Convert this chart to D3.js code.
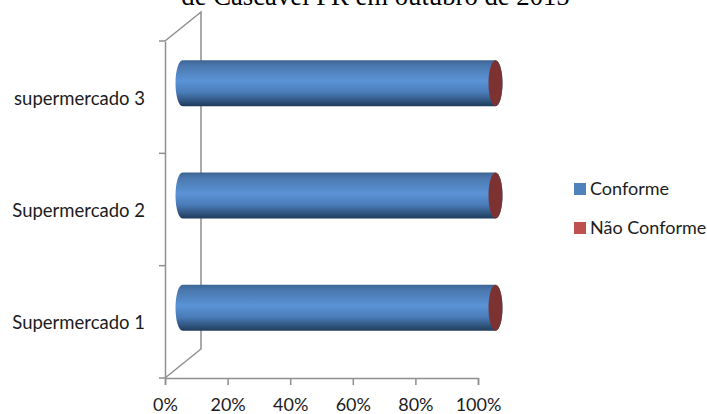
<!DOCTYPE html>
<html>
<head>
<meta charset="utf-8">
<script src="https://cdn.jsdelivr.net/npm/d3@7"></script>
<style>
html,body{margin:0;padding:0;background:#fff;}
svg{display:block;}
text{font-family:Lato,"Open Sans",sans-serif;fill:#1c1c1c;}
</style>
</head>
<body>
<svg id="chart" width="707" height="414"></svg>
<script>
const categories = ["Supermercado 1", "Supermercado 2", "supermercado 3"];
const conforme = [100, 100, 100];
const naoConforme = [0, 0, 0];
const seriesNames = ["Conforme", "Não Conforme"];
const tickValues = [0, 20, 40, 60, 80, 100];
const titleText = "de Cascavel PR em outubro de 2015";

const svg = d3.select("#chart");
const x = d3.scaleLinear().domain([0, 100]).range([165, 478]);
const y = d3.scaleBand().domain(categories).range([378, 41]);
const depth = {dx: 36, dy: -29};
const barDepth = {dx: 17.5, dy: -14.5};
const rx = 7, ry = 23;
const axisColor = "#8f8f8f";

const defs = svg.append("defs");
const blue = defs.append("linearGradient").attr("id", "cyl").attr("x1", 0).attr("x2", 0).attr("y1", 0).attr("y2", 1);
[[0, "#3c6494"], [0.12, "#4a78ae"], [0.45, "#5a93d6"], [0.7, "#4a7cb8"], [0.88, "#315680"], [1, "#1e3a5c"]]
  .forEach(([o, c]) => blue.append("stop").attr("offset", o).attr("stop-color", c));

svg.append("text").attr("x", 375.5).attr("y", 5).attr("text-anchor", "middle")
  .style("font-family", '"Liberation Serif",serif').style("font-size", "26.7px").style("fill", "#000").text(titleText);

// Side and back wall edges of the 3D plot box
const [x0] = x.range();
const [yB, yT] = y.range();
const box = d3.path();
box.moveTo(x0, yT); box.lineTo(x0 + depth.dx, yT + depth.dy); box.lineTo(x0 + depth.dx, yB + depth.dy); box.lineTo(x0, yB);
svg.append("path").attr("d", box.toString()).attr("fill", "none").attr("stroke", axisColor).attr("stroke-width", 1.5);

const yAxis = d3.axisLeft(y).tickValues([]).tickSize(0);
svg.append("g").attr("transform", `translate(${x0},0)`).call(yAxis)
  .call(g => g.select(".domain").attr("stroke", axisColor).attr("stroke-width", 1.5));
const yEdges = categories.map(c => y(c) + y.bandwidth()).concat(yT);
svg.append("g").selectAll("line").data(yEdges).join("line")
  .attr("x1", x0 - 6).attr("x2", x0).attr("y1", d => d).attr("y2", d => d)
  .attr("stroke", axisColor).attr("stroke-width", 1.5);

const xAxis = d3.axisBottom(x).tickValues(tickValues).tickFormat(d => d + "%").tickSize(7).tickPadding(0);
const xg = svg.append("g").attr("transform", `translate(0,${yB})`).call(xAxis);
xg.select(".domain").attr("stroke", axisColor).attr("stroke-width", 1.5);
xg.selectAll("line").attr("stroke", axisColor).attr("stroke-width", 1.5);
xg.selectAll("text").attr("y", 32.5).attr("dy", 0).style("font-size", "18px").attr("fill", "#1c1c1c");

svg.append("g").selectAll("text").data(categories).join("text")
  .attr("x", 145).attr("y", d => y(d) + y.bandwidth() / 2 + 7.5)
  .attr("text-anchor", "end").style("font-size", "18.5px").text(d => d);

// Cylinders: one body per category with a cap for the non-conforming share
const bars = svg.append("g").selectAll("g").data(categories).join("g")
  .attr("transform", (d, i) => `translate(${barDepth.dx},${y(d) + y.bandwidth() / 2 + barDepth.dy + 0.5})`);
bars.append("path").attr("d", (d, i) => {
  const x1 = x(0), x2 = x(conforme[i]);
  return `M${x1},${-ry}L${x2},${-ry}A${rx},${ry} 0 0 1 ${x2},${ry}L${x1},${ry}A${rx},${ry} 0 0 1 ${x1},${-ry}Z`;
}).attr("fill", "url(#cyl)");
bars.append("ellipse")
  .attr("cx", (d, i) => x(conforme[i] + naoConforme[i])).attr("cy", 0)
  .attr("rx", rx).attr("ry", ry).attr("fill", "#7c3231");

const legendColor = d3.scaleOrdinal().domain(seriesNames).range(["#4f81bd", "#c0504d"]);
const legendY = d3.scalePoint().domain(seriesNames).range([189, 228]);
const legend = svg.append("g").selectAll("g").data(seriesNames).join("g")
  .attr("transform", d => `translate(574,${legendY(d)})`);
legend.append("rect").attr("y", -6).attr("width", 12).attr("height", 12).attr("fill", d => legendColor(d));
legend.append("text").attr("x", 16).attr("y", 6).style("font-size", "18px").text(d => d);
</script>
</body>
</html>
